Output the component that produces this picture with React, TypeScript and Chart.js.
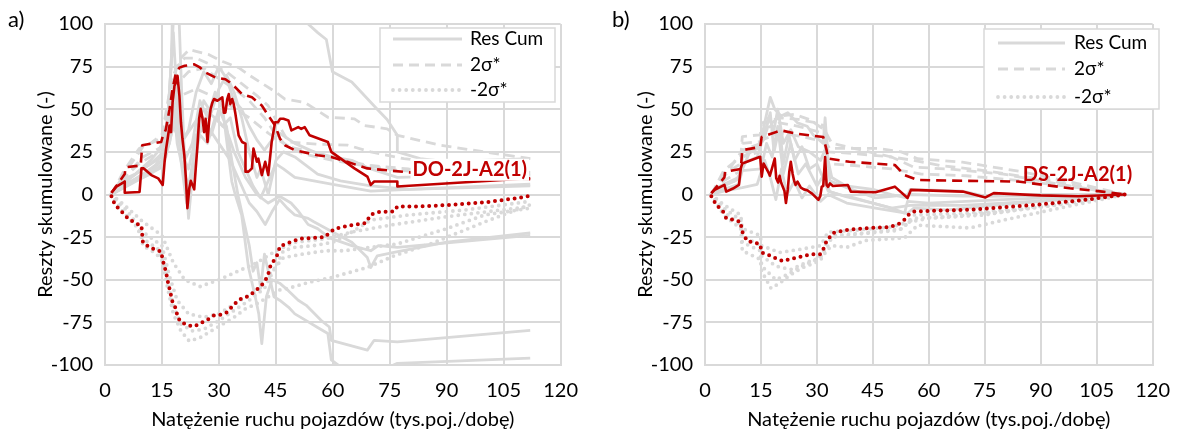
import React, { useEffect, useRef } from 'react';
import { Chart, registerables } from 'chart.js';

Chart.register(...registerables);

type Pt = [number, number];

// ---------- text ----------
const X_TITLE = 'Natężenie ruchu pojazdów (tys.poj./dobę)';
const Y_TITLE = 'Reszty skumulowane (-)';
const LEGEND_LABELS = ['Res Cum', '2σ*', '-2σ*'];
const PANEL_TAGS = ['a)', 'b)'];
const STATIONS = ['DO-2J-A2(1)', 'DS-2J-A2(1)'];
const STATION_LABEL_POS: Pt[] = [[81, 14.5], [85.2, 11.6]];

// ---------- axes ----------
const X_MIN = 0, X_MAX = 120, X_STEP = 15;
const Y_MIN = -100, Y_MAX = 100, Y_STEP = 25;

// ---------- panel a: highlighted station ----------
const A_RED_RES: Pt[] = [[1.7,1],[3,4.6],[5.2,7.6],[5.2,1],[9.1,1.5],[9.6,15.3],[10.2,15.3],[12.2,11.4],[14,9.5],[15.2,5.6],[15.7,19.2],[16.1,26.9],[16.5,32.7],[17,40.5],[17.4,36.6],[17.8,54],[18.3,63.8],[18.7,65.7],[19.1,69.6],[19.6,58],[20,42.4],[20.4,32.7],[20.9,23],[21.3,9.5],[21.7,-8],[22.2,3.7],[22.6,8],[23.5,3],[23.9,15.3],[24.3,26.9],[24.8,44.4],[25.2,50.2],[25.7,44.4],[26.1,36.6],[26.5,44.4],[27,30.8],[27.4,42.4],[27.8,50],[28.3,54],[28.7,56],[29.6,55],[30.9,57],[31.3,48],[31.7,48],[32.2,56],[32.6,58.9],[33,53],[33.5,56],[33.9,53],[34.3,48],[35.2,34.7],[36.1,30.8],[37,29.8],[37,13.4],[37.8,13.4],[38.7,15.3],[39.1,26.9],[40,19.2],[40.4,21],[41.3,11.4],[42.2,19.2],[43,11.4],[43.9,30.8],[44.8,42.4],[45.6,42.4],[46.1,44.4],[47,44.4],[48.3,43.4],[49.1,37.6],[50.9,39.5],[51.7,38.5],[52.6,39.5],[53.9,34.7],[58.7,30.8],[59.6,25],[65.7,15.3],[69.1,10.5],[70,5.6],[70.9,7.6],[73.5,7.6],[77,7.6],[77,4.7],[112,9.5]];
const A_RED_2S: Pt[] = [[1.7,1],[5.2,12],[5.4,16],[9.4,17],[9.8,28.9],[14.8,30.8],[15.2,34],[16,38],[17,50],[17.8,62],[18.7,71.5],[19.6,74.4],[21,75.5],[23.5,76.3],[25,74.5],[26.5,71.5],[29.1,68.6],[31.7,67.6],[33.5,64.7],[36.1,58.9],[38.7,57],[41.3,52.2],[43,46.3],[44.8,40.5],[46.1,32.7],[47.4,28.9],[50,26],[56,23],[59.6,22],[64,19],[69.1,15.3],[80,13],[95,11],[112,9]];
const A_RED_M2S: Pt[] = [[1.7,-1],[2.6,-6],[4.3,-9.9],[5.7,-13.2],[7.8,-16.7],[9.6,-18.2],[9.8,-23.5],[10,-28.3],[11.3,-30.2],[13,-32.2],[14.8,-33.5],[15.2,-38.4],[16.1,-45.7],[16.5,-50.6],[17,-55.4],[17.8,-63.2],[18.7,-67],[19.1,-71.9],[20,-74.8],[21.7,-76.7],[23.5,-77.3],[25.2,-75.4],[27,-73.4],[28.7,-70.9],[30.4,-70.5],[32.2,-69],[33.5,-65.7],[35.2,-61.8],[37,-60.3],[38.3,-58.9],[39.6,-56.4],[40.9,-54.1],[42.2,-50.6],[43,-46.7],[43.5,-42.4],[44.4,-39],[45.5,-35],[46.1,-30.2],[47.8,-28.9],[49.6,-27.3],[51.7,-25.8],[55.7,-25.4],[57.8,-25],[60.4,-20.2],[64.8,-18],[68.7,-16.7],[70,-11.8],[72.2,-10.3],[76.1,-9.9],[77,-7],[83,-7],[91.7,-6],[100.4,-4.5],[107.4,-2.5],[112,-0.8]];

// ---------- panel a: other stations ----------
const A_RES_1: Pt[] = [[1.7,0],[4,5],[8,12],[12,18],[15,24],[16.5,40],[17.5,80],[18,130],[20,140],[30,140],[45,130],[52,110],[53.5,100],[56.1,94.8],[58.3,90.9],[59.9,72],[65,66],[71.7,50],[74.3,44],[77,34.7],[77,25],[83,21],[90,19.2],[112,21]];
const A_RES_2: Pt[] = [[1.7,0],[5,6],[9,10],[13,15],[16,30],[17,60],[18.2,110],[19.4,110],[20.2,60],[21,20],[22,-14],[23,10],[24.5,40],[26,55],[28,48],[30,62],[32,70],[34,60],[36,45],[38,25],[40,10],[41,15],[43,0],[45,20],[47,25],[50,22],[56,12],[62,8],[70,5],[80,3],[112,5]];
const A_RES_3: Pt[] = [[1.7,0],[5,4],[10,10],[15,16],[17,40],[18.5,70],[19.5,45],[21,20],[23,30],[25,55],[27,45],[29,60],[31,50],[33.4,7.6],[34.3,0],[36,-12],[37.8,-42.8],[39.6,-60.3],[40.5,-70],[41.3,-87.4],[42.5,-60],[44,-50],[46,-52],[48.3,-56.4],[50.9,-62],[53,-65],[56.9,-73.8],[59.1,-77.7],[59.6,-85.5],[69.1,-91.3],[70.9,-85.5],[77,-86.4],[112,-79.7]];
const A_RES_4: Pt[] = [[1.7,0],[4,3],[8,8],[12,12],[15,18],[17,35],[18,55],[19,30],[20.5,15],[22,5],[24,30],[26,45],[28,35],[30,50],[32,40],[33.4,20],[35,0],[36.5,-15],[38,-30],[39,-45],[40,-40],[41,-55],[42,-35],[43,-45],[44.5,-60],[46,-62],[48.3,-66],[50,-70],[53,-74],[56,-78],[58.7,-81.5],[59.6,-97],[62,-101],[75,-101],[77,-99],[112,-96]];
const A_RES_5: Pt[] = [[1.7,0],[5,5],[10,12],[15,20],[17,30],[18.5,50],[20,25],[22,15],[24,35],[27,40],[30,30],[33,20],[36,5],[38,-5],[40,-10],[42.2,-17.6],[44,-10],[46,-3],[48,-8],[50,-12],[53.5,-14],[55,-16],[59.6,-21.5],[65,-28],[69.1,-37],[70,-42.8],[71.7,-36],[76.1,-34],[90,-28],[112,-22.5]];
const A_RES_6: Pt[] = [[1.7,0],[6,6],[12,14],[16,22],[18,40],[20,30],[23,40],[26,50],[29,45],[32,38],[34,25],[37,10],[40,0],[43,-5],[46,-1],[49,-5],[51,-10],[53.5,-17.6],[56,-20],[59.1,-25.4],[65,-30],[70,-33],[72,-30],[77,-31],[112,-24]];
const A_RES_7: Pt[] = [[1.7,0],[5,7],[10,15],[15,22],[16.5,45],[18,95],[19,55],[20,30],[22,38],[24,60],[26,72],[28,65],[30,75],[32,68],[34,55],[36,50],[38,40],[40,32],[42,26],[44,32],[46,36],[48,33],[50,30],[55,25],[60,22],[65,20],[70,15],[77,10],[112,12]];
const A_RES_8: Pt[] = [[1.7,0],[4,8],[8,12],[12,20],[15,28],[17,50],[18.5,62],[20,20],[21.5,-5],[23,15],[25,35],[27,30],[29,45],[31,40],[33,45],[35,25],[37,15],[39,5],[41,-2],[43,8],[45,18],[47,15],[50,10],[55,8],[60,6],[70,2],[80,3],[112,6]];

const A_2S_1: Pt[] = [[1.7,0],[5,12],[10,28],[15,33],[16.5,50],[18,70],[20,80],[22.2,85],[24,84],[27.4,82],[31,78],[35.2,74.4],[38,70],[42.2,64],[45,60],[47.4,56],[52.6,54],[58.7,45.3],[65.7,44.4],[68.3,40.5],[74.3,38.5],[77,34.7],[88.3,28.9],[112,21]];
const A_2S_2: Pt[] = [[1.7,0],[5,14],[9,27],[12,30],[15,35],[17,60],[19,75],[21,80],[24,80],[28,76],[32,72],[36,65],[40,58],[43,52],[46,40],[48.3,30.8],[56,29.5],[64,28.9],[70,25],[78.7,21],[95,17],[109,13.4],[112,13]];
const A_2S_3: Pt[] = [[1.7,0],[6,12],[10,22],[15,28],[17,48],[19,65],[22,72],[26,74],[30,68],[34,62],[38,55],[42,45],[45,35],[48,28],[55,25],[62,20],[70,17],[80,15],[95,13],[112,11]];
const A_2S_4: Pt[] = [[1.7,0],[5,10],[9,18],[14,25],[17,40],[20,58],[24,62],[28,58],[33,52],[38,45],[43,36],[47,30],[52,24],[60,20],[68,17],[78,14],[112,9]];

const A_M2S_1: Pt[] = [[1.7,0],[5,-11],[9,-20],[10,-30],[13,-34],[15,-38],[16.5,-55],[18,-70],[20,-80],[22.2,-86],[25,-84],[28,-80],[31,-76],[34,-72],[37,-67],[40,-64],[43,-60],[46,-56],[48.3,-55],[53.5,-51.6],[59.6,-48.7],[69.1,-42.8],[76.1,-36],[86.5,-28.3],[100.4,-15.7],[112,-6]];
const A_M2S_2: Pt[] = [[1.7,0],[4,-8],[8,-18],[10,-26],[14,-32],[16,-45],[18,-65],[20,-76],[23,-80],[26,-79],[30,-74],[34,-68],[38,-62],[42,-55],[45,-42],[47,-33],[50,-31],[55,-30],[60,-28],[65,-22],[70,-15],[80,-12],[95,-9],[112,-4]];
const A_M2S_3: Pt[] = [[1.7,0],[6,-10],[10,-22],[15,-30],[17,-48],[19,-62],[22,-70],[26,-72],[30,-70],[35,-63],[40,-56],[44,-45],[47,-37],[52,-35],[58,-33],[63,-33],[70,-31],[77,-29],[90,-20],[100,-12],[112,-8]];
const A_M2S_4: Pt[] = [[1.7,0],[5,-6],[10,-16],[15,-24],[18,-40],[21,-50],[25,-54],[30,-50],[35,-45],[40,-40],[45,-33],[50,-28],[58,-26],[65,-22],[75,-18],[90,-13],[112,-7]];

// ---------- panel b: highlighted station ----------
const B_RED_RES: Pt[] = [[1.7,0.8],[2.6,2.7],[5.2,5.6],[5.7,1.7],[7.5,3.5],[9.1,5.6],[9.6,15.3],[10,18.2],[14.8,22.1],[15.2,10.5],[15.7,18.2],[17,13],[17.4,11],[18.7,21.1],[19.1,9.5],[19.6,7],[20,11],[20.4,7],[21.3,2],[21.7,-5],[22.2,3],[22.6,13.4],[23,19.2],[23.5,12],[23.9,8],[24.3,5.6],[24.8,7.5],[25.7,4],[26.5,3],[27.4,2.5],[28.7,0.5],[30.4,-3.1],[30.9,-1],[31.3,4.6],[31.7,5],[32.2,22],[32.6,5.6],[33,4.5],[33.5,6.5],[34.3,5],[38.3,5.6],[39.1,1.7],[45.7,1.3],[50.9,4.6],[54.3,-2.1],[55.2,2.7],[69.1,1.7],[75.2,-1.7],[77.4,0.8],[90,-0.5],[100,-1],[112.6,0]];
const B_RED_2S: Pt[] = [[1.7,0.8],[5.2,10],[5.4,13.4],[9.6,15],[10,26],[14.8,27.9],[15.2,33.7],[20.4,37.6],[24.8,35.6],[31.7,33.7],[32.6,26],[33,21.1],[38.7,19.2],[50.9,17.3],[53.5,11.4],[57,8.5],[70,8],[83.9,7.6],[97.8,3.7],[106.5,1.7],[112.6,0]];
const B_RED_M2S: Pt[] = [[1.7,-1],[3,-6],[4.8,-9.9],[5.7,-14.1],[8,-15],[9.6,-16.1],[9.8,-21],[11.3,-27.3],[13.5,-28.3],[14.8,-29.3],[15.2,-34.1],[17,-35.5],[19,-37.5],[20.9,-39],[22.6,-38],[26.5,-36],[28.5,-35],[30.9,-35],[31.7,-32.2],[32.6,-27.3],[34.3,-22.5],[38.7,-20.5],[44.8,-19.6],[49.1,-19.2],[51.7,-17.6],[53.5,-14.7],[54.8,-11.4],[56.1,-9.9],[71.7,-8.9],[89.1,-6],[102.2,-3.1],[112.6,0]];

// ---------- panel b: other stations ----------
const B_RES_1: Pt[] = [[1.7,0],[4,5],[8,8],[9.5,12],[12,25],[14.8,30],[16,42],[17.5,57],[18.7,50],[20.4,46],[22.2,48],[24.8,42],[27.4,40],[29,35],[31.7,30],[32.2,45],[33,20],[34,10],[37.8,5],[45,3],[50,0],[54,-2],[55,3],[69,2],[75,-1],[90,0],[112.6,0]];
const B_RES_2: Pt[] = [[1.7,0],[5,6],[9,10],[10,18],[14,22],[16,36],[17.5,48],[18.5,25],[20,40],[21,18],[22.5,35],[24,20],[26,28],[28,15],[30,18],[32,8],[33,2],[36,0],[40,-2],[45,-5],[50,-8],[53.5,-10.9],[54.3,-4],[60,-5],[70,-4],[80,-3],[112.6,0]];
const B_RES_3: Pt[] = [[1.7,0],[5,3],[9,6],[10,14],[15,15],[16.5,30],[18,22],[19.5,40],[21,12],[23,30],[25,12],[27,18],[30,5],[32,12],[33.4,1.7],[37.8,-1.2],[45,-5],[50,-8],[55,-6.4],[69,-6.4],[80,-5],[95,-3],[112.6,0]];
const B_RES_4: Pt[] = [[1.7,0],[5,2],[10,4],[14,6],[16,20],[17.5,10],[19,-3],[20.5,15],[22,0],[24,8],[26,-2],[28,5],[31,-4],[33,0],[38,-5],[45.7,-8],[54.3,-11],[56,-8],[65,-9],[75,-7],[90,-4],[112.6,0]];
const B_RES_5: Pt[] = [[1.7,0],[5,5],[9,9],[10,22],[14,27],[16,33],[17,45],[18.5,38],[19.5,50],[21,30],[23,38],[25,28],[28,25],[31,20],[32.5,28],[33.5,8],[38,4],[45.7,-2],[55,0],[69,-1],[80,-1],[112.6,0]];

const B_2S_1: Pt[] = [[1.7,0],[5,14],[9.6,22],[10,34],[14.8,35],[15.2,42],[20.4,45],[25,44],[30,42],[31.7,40.5],[32.6,30],[33.4,27],[40.4,27],[46.5,27],[52.6,25],[57,21],[69,19],[84.8,13.4],[99.6,6.6],[112.6,0]];
const B_2S_2: Pt[] = [[1.7,0],[5,12],[9.6,18],[10,30],[14.8,31],[15.2,38],[20,42],[25,40],[30,37],[32.5,35],[33,25],[40,24],[50,22],[56,16],[65,15],[80,12],[95,6],[112.6,0]];
const B_2S_3: Pt[] = [[1.7,0],[5,8],[9.6,14],[10,22],[14.8,25],[15.2,32],[20,36],[26,34],[32,31],[33,18],[40,17],[50,15],[58,12],[70,11],[85,8],[100,4],[112.6,0]];
const B_2S_4: Pt[] = [[1.7,0],[5,10],[10,26],[15,30],[17,40],[20,46],[24,47],[28,44],[32,38],[34,30],[42,26],[50,22],[56,20],[63,17],[75,14],[90,9],[112.6,0]];

const B_M2S_1: Pt[] = [[1.7,0],[5,-12],[9.6,-20],[10,-33],[14.8,-38],[15.2,-45],[17.7,-55],[20,-52],[23,-47],[26,-43],[30.8,-39],[32.6,-33],[34,-30],[38,-31],[43,-27],[53.5,-25.4],[57,-18],[71,-19.6],[80,-15],[95,-8],[112.6,0]];
const B_M2S_2: Pt[] = [[1.7,0],[5,-10],[9.6,-18],[10,-28],[14.8,-33],[15.2,-42],[19,-50],[22,-47],[26,-42],[30,-38],[32.6,-32],[34,-25],[42,-23],[52,-21],[56,-14],[65,-13],[80,-10],[95,-6],[112.6,0]];
const B_M2S_3: Pt[] = [[1.7,0],[5,-8],[9.6,-15],[10,-24],[14.8,-30],[15.2,-36],[19,-42],[23,-44],[27,-40],[31,-37],[32.6,-28],[35,-24],[45,-22],[53,-20],[56,-12],[70,-11],[85,-8],[112.6,0]];
const B_M2S_4: Pt[] = [[1.7,0],[5,-6],[9.6,-12],[10,-20],[14.8,-24],[15.2,-30],[20,-34],[26,-32],[31,-30],[33,-22],[40,-21],[50,-19],[55,-16],[60,-14],[75,-12],[90,-7],[112.6,0]];

// ---------- styles ----------
const FONT = "Lato, 'DejaVu Sans', sans-serif";
const RED = '#c00000';
const GRAY = '#d9d9d9';
const GRID = '#d9d9d9';
const TEXT = '#000000';

type Kind = 'solid' | 'dash' | 'dot';

function lineDs(points: Pt[], color: string, kind: Kind, red: boolean) {
  return {
    data: points.map(([x, y]) => ({ x, y })),
    borderColor: color,
    borderWidth: kind === 'dot' ? (red ? 4 : 3.8) : red ? 2.6 : 2.8,
    borderDash: kind === 'dash' ? [10, 6] : kind === 'dot' ? [0, 6.6] : [],
    borderCapStyle: kind === 'dot' ? 'round' : 'butt',
    borderJoinStyle: 'round',
    pointRadius: 0,
    pointHoverRadius: 0,
    fill: false,
    tension: 0,
  };
}

interface LegendBox { x: number; y: number; w: number; h: number; lx1: number; lx2: number; tx: number; rows: number[]; }

const annotPlugin = {
  id: 'annot',
  afterDatasetsDraw(chart: any, _args: any, opts: any) {
    const { ctx, scales } = chart;
    ctx.save();
    // station label
    ctx.font = `bold 20px ${FONT}`;
    ctx.textAlign = 'left';
    ctx.textBaseline = 'middle';
    const lx = scales.x.getPixelForValue(opts.sx);
    const ly = scales.y.getPixelForValue(opts.sy);
    if (opts.labelBg) {
      const w = ctx.measureText(opts.station).width;
      ctx.fillStyle = '#ffffff';
      ctx.fillRect(lx - 2, ly - 11, w + 4, 22);
    }
    ctx.fillStyle = RED;
    ctx.fillText(opts.station, lx, ly);
    // legend
    const L: LegendBox = opts.legend;
    ctx.fillStyle = '#ffffff';
    ctx.fillRect(L.x, L.y, L.w, L.h);
    ctx.strokeStyle = GRID;
    ctx.lineWidth = 1.5;
    ctx.strokeRect(L.x, L.y, L.w, L.h);
    const kinds: Kind[] = ['solid', 'dash', 'dot'];
    LEGEND_LABELS.forEach((label, i) => {
      const k = kinds[i];
      const y = L.rows[i];
      ctx.beginPath();
      ctx.strokeStyle = GRAY;
      ctx.lineWidth = k === 'dot' ? 3.8 : 2.8;
      ctx.lineCap = k === 'dot' ? 'round' : 'butt';
      ctx.setLineDash(k === 'dash' ? [10, 6] : k === 'dot' ? [0, 6.6] : []);
      ctx.moveTo(L.lx1, y);
      ctx.lineTo(L.lx2, y);
      ctx.stroke();
      ctx.setLineDash([]);
      ctx.font = `19px ${FONT}`;
      ctx.fillStyle = TEXT;
      ctx.textAlign = 'left';
      ctx.textBaseline = 'middle';
      ctx.fillText(label, L.tx, y);
    });
    // panel tag
    ctx.font = `22px ${FONT}`;
    ctx.fillStyle = TEXT;
    ctx.textAlign = 'left';
    ctx.textBaseline = 'middle';
    ctx.fillText(opts.tag, opts.tagX, opts.tagY);
    ctx.restore();
  },
};

interface PanelSpec {
  res: Pt[]; s2: Pt[]; ms2: Pt[];
  grayRes: Pt[][]; gray2s: Pt[][]; grayM2s: Pt[][];
  station: string; sPos: Pt; labelBg: boolean; tag: string; tagX: number;
  padRight: number; legend: LegendBox;
}

function makeChart(canvas: HTMLCanvasElement, p: PanelSpec) {
  const datasets: any[] = [
    lineDs(p.res, RED, 'solid', true),
    lineDs(p.s2, RED, 'dash', true),
    lineDs(p.ms2, RED, 'dot', true),
    ...p.grayRes.map((d) => lineDs(d, GRAY, 'solid', false)),
    ...p.gray2s.map((d) => lineDs(d, GRAY, 'dash', false)),
    ...p.grayM2s.map((d) => lineDs(d, GRAY, 'dot', false)),
  ];
  const tickFont = { family: FONT, size: 20 };
  return new Chart(canvas, {
    type: 'line',
    data: { datasets },
    plugins: [annotPlugin],
    options: {
      animation: false,
      responsive: false,
      devicePixelRatio: 1,
      events: [],
      layout: { padding: { top: 22, right: p.padRight, bottom: 0, left: 0 } },
      plugins: {
        legend: { display: false },
        tooltip: { enabled: false },
        annot: {
          station: p.station, sx: p.sPos[0], sy: p.sPos[1], labelBg: p.labelBg,
          legend: p.legend, tag: p.tag, tagX: p.tagX, tagY: 20,
        },
      } as any,
      scales: {
        x: {
          type: 'linear',
          min: X_MIN, max: X_MAX,
          ticks: { stepSize: X_STEP, font: tickFont, color: TEXT, padding: 14, maxRotation: 0, autoSkip: false },
          grid: { color: GRID, lineWidth: 2, drawTicks: false },
          border: { color: GRID, width: 2 },
          title: { display: true, text: X_TITLE, font: tickFont, color: TEXT, padding: { top: 0, bottom: 2 } },
          afterFit: (s: any) => { s.height = 69; },
        },
        y: {
          type: 'linear',
          min: Y_MIN, max: Y_MAX,
          ticks: { stepSize: Y_STEP, font: tickFont, color: TEXT, padding: 12 },
          grid: { color: GRID, lineWidth: 2, drawTicks: false },
          border: { color: GRID, width: 2 },
          title: { display: true, text: Y_TITLE, font: tickFont, color: TEXT, padding: { top: 34, bottom: 0 } },
          afterFit: (s: any) => { s.width = 105; },
        },
      },
    } as any,
  });
}

const PANEL_A: PanelSpec = {
  res: A_RED_RES, s2: A_RED_2S, ms2: A_RED_M2S,
  grayRes: [A_RES_1, A_RES_2, A_RES_3, A_RES_4, A_RES_5, A_RES_6, A_RES_7, A_RES_8],
  gray2s: [A_2S_1, A_2S_2, A_2S_3, A_2S_4],
  grayM2s: [A_M2S_1, A_M2S_2, A_M2S_3, A_M2S_4],
  station: STATIONS[0], sPos: STATION_LABEL_POS[0], labelBg: true, tag: PANEL_TAGS[0], tagX: 8,
  padRight: 27,
  legend: { x: 380, y: 28, w: 175, h: 74, lx1: 393, lx2: 462, tx: 470, rows: [39, 65, 90] },
};

const PANEL_B: PanelSpec = {
  res: B_RED_RES, s2: B_RED_2S, ms2: B_RED_M2S,
  grayRes: [B_RES_1, B_RES_2, B_RES_3, B_RES_4, B_RES_5],
  gray2s: [B_2S_1, B_2S_2, B_2S_3, B_2S_4],
  grayM2s: [B_M2S_1, B_M2S_2, B_M2S_3, B_M2S_4],
  station: STATIONS[1], sPos: STATION_LABEL_POS[1], labelBg: false, tag: PANEL_TAGS[1], tagX: 12,
  padRight: 19,
  legend: { x: 384, y: 29, w: 175, h: 80, lx1: 398, lx2: 465, tx: 474, rows: [43, 69, 97] },
};

function Panel({ spec, left, width }: { spec: PanelSpec; left: number; width: number }) {
  const ref = useRef<HTMLCanvasElement | null>(null);
  useEffect(() => {
    if (!ref.current) return;
    const chart = makeChart(ref.current, spec);
    return () => chart.destroy();
  }, [spec]);
  return (
    <canvas
      ref={ref}
      width={width}
      height={434}
      style={{ position: 'absolute', left, top: 0, width, height: 434 }}
    />
  );
}

export default function App() {
  return (
    <div style={{ position: 'absolute', left: 0, top: 0, width: 1184, height: 434, background: '#ffffff', overflow: 'hidden' }}>
      <Panel spec={PANEL_A} left={0} width={592} />
      <Panel spec={PANEL_B} left={600} width={584} />
    </div>
  );
}
